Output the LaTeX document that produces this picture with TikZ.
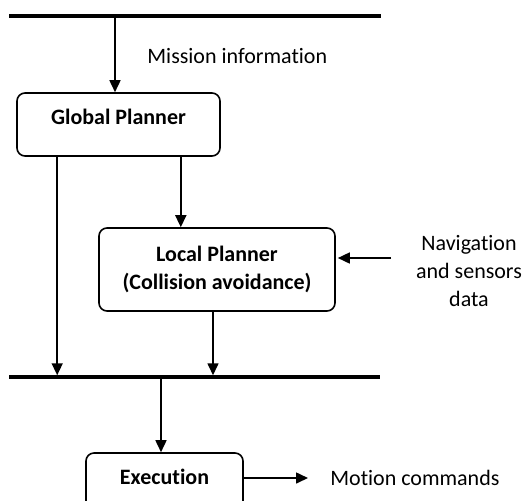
\documentclass[tikz,border=0pt]{standalone}
\usepackage{fontspec}
\setmainfont{Carlito}[Ligatures=NoCommon]
\usetikzlibrary{arrows.meta}

\begin{document}
\begin{tikzpicture}[x=0.5pt, y=-0.5pt, >={Triangle[length=6pt,width=5.5pt]},
    every node/.style={font=\fontsize{11}{14}\selectfont},
    block/.style={draw, line width=0.8pt, rounded corners=4pt, inner sep=0pt,
        font=\fontsize{11}{14}\selectfont\bfseries},
    onebox/.style={text height=15.75pt, text depth=15.75pt},
    bus/.style={line width=1.75pt},
    flow/.style={->, line width=0.8pt}]

    % Frame (the bottom box is cut by the page edge)
    \clip (0,0) rectangle (525,500);

    % ========== Buses ==========
    \coordinate (topL) at (9,16);
    \coordinate (topR) at (381,16);
    \coordinate (botL) at (9,377);
    \coordinate (botR) at (380,377);
    \draw[bus] (topL) -- (topR);
    \draw[bus] (botL) -- (botR);

    % ========== Blocks ==========
    \node[block, onebox, minimum width=101.5pt] (gp) at (118.5,124.5) {Global Planner};
    \node[block, align=center, minimum width=118pt, minimum height=41.5pt] (lp) at (217,269.5)
        {Local Planner\\(Collision avoidance)};
    \node[block, onebox, minimum width=78.5pt] (ex) at (164.5,484.5) {Execution};

    % ========== Labels ==========
    \node[anchor=west, inner sep=0pt] (mi) at (147,56) {Mission information};
    \node[align=center, inner sep=0pt] (nav) at (469,271) {Navigation\\and sensors\\data};
    \node[anchor=west, inner sep=0pt] (mc) at (330,478) {Motion commands};

    % ========== Connectors ==========
    % mission input
    \draw[flow] ([xshift=-1.75pt]gp.north |- topL) -- ([xshift=-1.75pt]gp.north);
    % global planner outputs
    \draw[flow, shorten >=0.875pt] ([xshift=20.5pt]gp.south west) -- ([xshift=20.5pt]gp.south west |- botL);
    \draw[flow] ([xshift=-20pt]gp.south east) -- ([xshift=-20pt]gp.south east |- lp.north);
    % sensors into local planner
    \coordinate (navsrc) at (391,258);
    \draw[flow, shorten >=1pt] (navsrc) -- (navsrc -| lp.east);
    % local planner output
    \draw[flow, shorten >=0.875pt] ([xshift=-2pt]lp.south) -- ([xshift=-2pt]lp.south |- botL);
    % bus to execution
    \draw[flow, shorten <=0.875pt] ([xshift=-1.75pt]ex.north |- botL) -- ([xshift=-1.75pt]ex.north);
    % motion output
    \draw[flow, shorten >=11pt] ([yshift=3.25pt]ex.east) -- ([yshift=3.25pt]ex.east -| mc.west);

\end{tikzpicture}
\end{document}
